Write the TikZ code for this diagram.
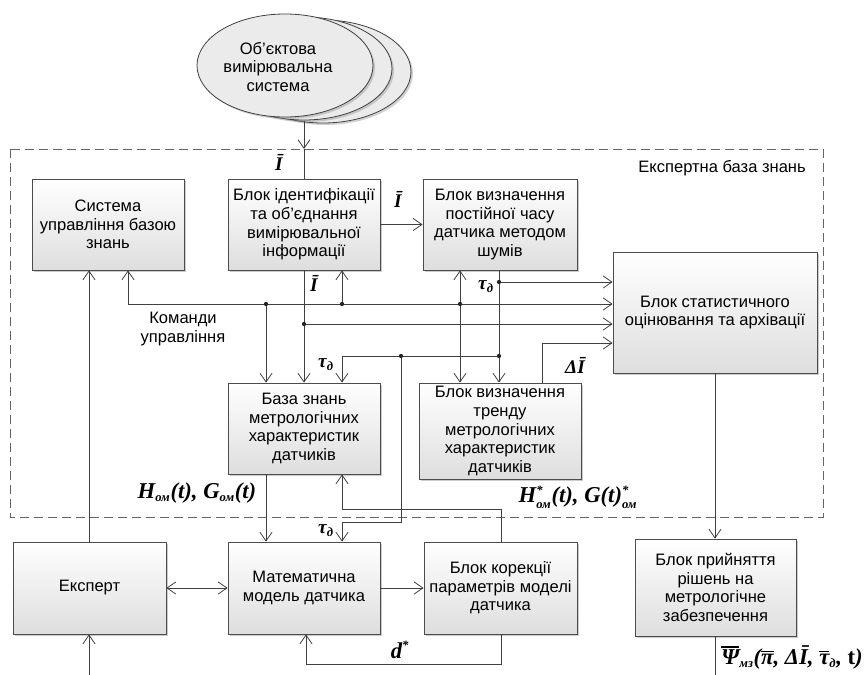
\documentclass[tikz,border=0pt]{standalone}
\usepackage{fontspec}
\setmainfont{Liberation Sans}
\newfontfamily\lblf{Liberation Serif}
\usetikzlibrary{arrows.meta,shadows,shapes.geometric}
\newcommand{\smf}{\fontsize{9.5}{9.5}\selectfont}
\newcommand{\subsup}[2]{$^{\mbox{\smf #1}}_{\mbox{\smf #2}}$}
\newcommand{\sbx}[1]{$_{\mbox{\smf #1}}$}
\newcommand{\olx}[1]{\leavevmode\vbox{\hrule height 0.9pt\kern1.2pt\hbox{#1}}}
\begin{document}
\begin{tikzpicture}[x=0.75pt,y=-0.75pt,
  box/.style={draw=black!70, line width=0.6pt, top color=white, bottom color=black!13,
    drop shadow={shadow xshift=1.8pt, shadow yshift=-1.8pt, fill=black!45, opacity=0.45},
    align=center, font=\fontsize{12.4}{13.9}\selectfont, inner sep=1pt,
    minimum width=114pt, minimum height=68.25pt},
  ell/.style={ellipse, draw=black!75, line width=0.6pt, fill=black!8,
    drop shadow={shadow xshift=1.5pt, shadow yshift=-1.5pt, fill=black!45, opacity=0.4},
    minimum width=132pt, minimum height=77.25pt, inner sep=0pt},
  wire/.style={draw=black!75, line width=0.6pt},
  arr/.style={wire, -{Straight Barb[length=6.5pt,width=9pt]}},
  arrb/.style={wire, {Straight Barb[length=6.5pt,width=9pt]}-{Straight Barb[length=6.5pt,width=9pt]}},
  frame/.style={draw=black!60, line width=0.6pt, dash pattern=on 7pt off 3.5pt},
  lbl/.style={font=\lblf\bfseries\itshape\fontsize{14.5}{16}\selectfont, inner sep=0pt},
  lblb/.style={font=\lblf\bfseries\itshape\fontsize{17}{18}\selectfont, inner sep=0pt},
  txt/.style={font=\fontsize{12.4}{13.9}\selectfont, align=center, inner sep=0pt}
]
\useasboundingbox (0,0) rectangle (865,675);

% ellipses
\node[ell] (e3) at (323,71.5) {};
\node[ell] (e2) at (304,68.5) {};
\node[ell] (e1) at (285,65.5) {};
\node[txt] (etx) at (278,67) {Об'єктова\\вимірювальна\\система};

% frame
\draw[frame] (10,149) rectangle (823,517);
\node[txt, anchor=north east] (ftl) at (806,160) {Експертна база знань};

% boxes
\node[box] (skb) at (108,224.5) {Система\\управління базою\\знань};
\node[box] (idb) at (304,224.5) {Блок ідентифікації\\та об'єднання\\вимірювальної\\інформації};
\node[box, minimum width=115.5pt] (tcb) at (500,224.5) {Блок визначення\\постійної часу\\датчика методом\\шумів};
\node[box, minimum width=153pt, minimum height=90.75pt] (stb) at (715,312.5) {Блок статистичного\\оцінювання та архівації};
\node[box] (kbm) at (304,428.5) {База знань\\метрологічних\\характеристик\\датчиків};
\node[box, minimum width=121.5pt, minimum height=72pt, inner ysep=0pt] (trb) at (500,431) {Блок визначення\\тренду\\метрологічних\\характеристик\\датчиків};
\node[box, minimum width=114.75pt, minimum height=69pt] (exp) at (89.5,588) {Експерт};
\node[box, minimum height=69pt] (mmb) at (304,588) {Математична\\модель датчика};
\node[box, minimum width=114.75pt, minimum height=69pt] (krb) at (500.5,588) {Блок корекції\\параметрів моделі\\датчика};
\node[box, minimum width=120.75pt, minimum height=72.75pt] (dcb) at (715.5,587.5) {Блок прийняття\\рішень на\\метрологічне\\забезпечення};

% coordinates
\coordinate (eo) at (304,121);
\coordinate (ftop) at (304,149);
\coordinate (b0) at (128,304);
\coordinate (j1) at (266,304);
\coordinate (j2) at (342,304);
\coordinate (j3) at (460,304);
\coordinate (j4) at (304,324);
\coordinate (j5) at (499,282);
\coordinate (j6) at (499,356);
\coordinate (j7) at (401,356);
\coordinate (k1) at (342,356);
\coordinate (k2) at (401,522);
\coordinate (k3) at (342,522);
\coordinate (m1) at (542,343);
\coordinate (n1) at (501,509);
\coordinate (n2) at (342,509);
\coordinate (p1) at (501,664);
\coordinate (p2) at (306,664);
\coordinate (q1) at (89,675);
\coordinate (q2) at (715,675);

% wires
\draw[arr] (eo) -- (ftop);
\draw[wire] (ftop) -- (idb.north);
\draw[arr] (idb.east) -- (tcb.west);
\draw[arr] (b0) -- (skb.south -| b0);
\draw[arr] (b0) -- (stb.west |- b0);
\draw[arr] (j1) -- (kbm.north -| j1);
\draw[arr] (j2) -- (idb.south -| j2);
\draw[arr] (j3) -- (tcb.south -| j3);
\draw[arr] (j3) -- (trb.north -| j3);
\draw[arr] (idb.south) -- (kbm.north);
\draw[arr] (j4) -- (stb.west |- j4);
\draw[arr] (tcb.south -| j5) -- (trb.north -| j5);
\draw[arr] (j5) -- (stb.west |- j5);
\draw[arr] (j6) -- (k1) -- (kbm.north -| k1);
\draw[arr] (j7) -- (k2) -- (k3) -- (mmb.north -| k3);
\draw[arr] (trb.north -| m1) -- (m1) -- (stb.west |- m1);
\draw[arr] (kbm.south -| j1) -- (mmb.north -| j1);
\draw[arr] (krb.north -| n1) -- (n1) -- (n2) -- (kbm.south -| n2);
\draw[arr] (mmb.east) -- (krb.west);
\draw[arrb] (exp.east) -- (mmb.west);
\draw[arr] (krb.south -| p1) -- (p1) -- (p2) -- (mmb.south -| p2);
\draw[arr] (exp.north -| q1) -- (skb.south -| q1);
\draw[arr] (q1) -- (exp.south -| q1);
\draw[arr] (stb.south) -- (dcb.north -| stb.south);
\draw[wire] (dcb.south -| q2) -- (q2);

% junction dots
\foreach \j in {j1,j2,j3,j4,j5,j6,j7} \fill[black!85] (\j) circle (1.6pt);

% labels
\node[txt] (cmd) at (183,329) {Команди\\управління};
\node[lbl] (l1) at (279,162) {Ī};
\node[lbl] (l2) at (398,199) {Ī};
\node[lbl] (l3) at (314,283) {Ī};
\node[lbl] (l4) at (486,287) {τ\sbx{д}};
\node[lbl] (l5) at (326,365) {τ\sbx{д}};
\node[lbl] (l6) at (575,365) {ΔĪ};
\node[lblb] (l7) at (197,493) {H\sbx{ом}(t), G\sbx{ом}(t)};
\node[lblb] (l8) at (578,497) {H\subsup{*}{ом}(t), G(t)\subsup{*}{ом}};
\node[lbl] (l9) at (326,531) {τ\sbx{д}};
\node[lblb] (l10) at (400,650) {d$^{\mbox{\smf *}}$};
\node[lblb, anchor=east] (l11) at (863,657) {\olx{Ψ}\sbx{мз}(\olx{π}, ΔĪ, \olx{τ}\sbx{д}, \textup{t})};
\end{tikzpicture}
\end{document}
